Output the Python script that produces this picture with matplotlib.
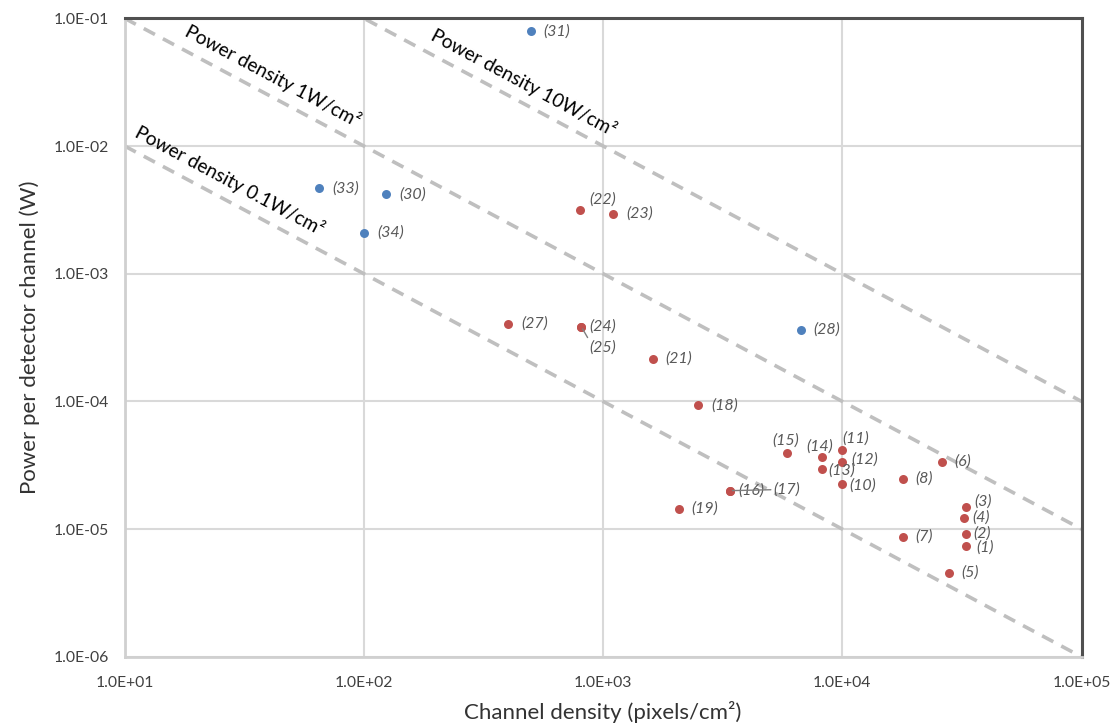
import numpy as np
import matplotlib
matplotlib.use('Agg')
import matplotlib.pyplot as plt

plt.rcParams['font.family'] = ['Lato', 'DejaVu Sans']

# data (channel density in pixels/cm2, power per channel in W)
red_ids = [1, 2, 3, 4, 5, 6, 7, 8, 10, 11, 12, 13, 14, 15, 16, 17, 18, 19, 21, 22, 23, 24, 25, 27]
red_x = [33000, 33000, 33000, 32400, 27800, 26000, 17900, 17900, 10000, 10000, 10000, 8250,
         8250, 5900, 3380, 3380, 2500, 2070, 1610, 800, 1100, 810, 810, 400]
red_y = [7.4e-6, 9.2e-6, 1.5e-5, 1.23e-5, 4.55e-6, 3.38e-5, 8.7e-6, 2.48e-5, 2.27e-5, 4.2e-5,
         3.38e-5, 2.97e-5, 3.7e-5, 3.97e-5, 2.0e-5, 2.0e-5, 9.3e-5, 1.45e-5, 2.16e-4, 3.18e-3,
         2.96e-3, 3.86e-4, 3.86e-4, 4.07e-4]

blue_ids = [28, 30, 31, 33, 34]
blue_x = [6700, 124, 500, 65, 100]
blue_y = [3.65e-4, 4.18e-3, 7.9e-2, 4.66e-3, 2.1e-3]

power_densities = [0.1, 1, 10]   # W/cm2 guide lines
line_labels = ['Power density 0.1W/cm²', 'Power density 1W/cm²', 'Power density 10W/cm²']

x_ticks = [1e1, 1e2, 1e3, 1e4, 1e5]
y_ticks = [1e-6, 1e-5, 1e-4, 1e-3, 1e-2, 1e-1]

# label placement (offset in pixels from the point), ha
label_pos = {
    1: (10, -2, 'left'), 2: (7, 0, 'left'), 3: (8, 5, 'left'), 4: (8, 0, 'left'),
    5: (13, 0, 'left'), 6: (13, 0, 'left'), 7: (13, 0, 'left'), 8: (13, 0, 'left'),
    10: (7, -2, 'left'), 11: (0, 11, 'left'), 12: (9, 2, 'left'), 13: (6, -2, 'left'),
    14: (-3, 10, 'center'), 15: (-2, 12, 'center'), 16: (9, 0, 'left'), 17: (44, 1, 'left'),
    18: (13, 0, 'left'), 19: (13, 0, 'left'), 21: (13, 0, 'left'), 22: (9, 10, 'left'),
    23: (13, 0, 'left'), 24: (8, 0, 'left'), 25: (8, -21, 'left'), 27: (13, 0, 'left'),
    28: (13, 0, 'left'), 30: (13, 0, 'left'), 31: (12, 0, 'left'), 33: (13, 0, 'left'),
    34: (13, 0, 'left'),
}
leader = {17, 25}

fig = plt.figure(figsize=(11.12, 7.24), dpi=100)
ax = fig.add_axes([0.1121, 0.0928, 0.8605, 0.8819])
ax.set_xscale('log')
ax.set_yscale('log')
ax.set_xlim(1e1, 1e5)
ax.set_ylim(1e-6, 1e-1)

# guide lines y = P / x
xs = np.array([1e1, 1e5])
for p in power_densities:
    ax.plot(xs, p / xs, color='#BFBFBF', lw=2.6, ls=(0, (3.5, 2.5)), zorder=2)

# rotated guide-line labels
ang = -np.degrees(np.arctan(127.7 / 239.2))
label_centres = [(27.5, 0.0054), (41.5, 0.0355), (465, 0.0316)]
for (cx, cy), txt in zip(label_centres, line_labels):
    ax.text(cx, cy, txt, rotation=ang, ha='center', va='center', fontsize=13.8,
            color='black', zorder=3)

ax.scatter(red_x, red_y, s=42, color='#C0504D', zorder=4, linewidths=0)
ax.scatter(blue_x, blue_y, s=42, color='#4F81BD', zorder=4, linewidths=0)

for ids, xv, yv in [(red_ids, red_x, red_y), (blue_ids, blue_x, blue_y)]:
    for i, x, y in zip(ids, xv, yv):
        dx, dy, ha = label_pos[i]
        kw = {}
        if i in leader:
            kw['arrowprops'] = dict(arrowstyle='-', color='#7F7F7F', lw=1.0,
                                    shrinkA=0, shrinkB=2, relpos=(0, 0.5 if i == 17 else 1))
        ax.annotate('(%d)' % i, (x, y), xytext=(dx, dy), textcoords='offset pixels',
                    ha=ha, va='center', fontsize=11.5, style='italic', color='#595959',
                    zorder=5, **kw)

ax.set_xticks(x_ticks)
ax.set_yticks(y_ticks)
ax.set_xticklabels(['%.1E' % v for v in x_ticks])
ax.set_yticklabels(['%.1E' % v for v in y_ticks])
ax.minorticks_off()
ax.tick_params(length=0, labelsize=11.3, colors='#404040')
ax.tick_params(axis='x', pad=14)
ax.tick_params(axis='y', pad=11)

ax.grid(True, color='#D9D9D9', lw=1.5, zorder=0)
ax.set_axisbelow(True)
for s in ['top', 'right']:
    ax.spines[s].set_color('#505050')
    ax.spines[s].set_linewidth(2.2)
for s in ['left', 'bottom']:
    ax.spines[s].set_color('#D0D0D0')
    ax.spines[s].set_linewidth(2)

ax.set_xlabel('Channel density (pixels/cm²)', fontsize=16, color='#333333', labelpad=8)
ax.set_ylabel('Power per detector channel (W)', fontsize=16, color='#333333', labelpad=10)

fig.savefig('out.png', dpi=100)
